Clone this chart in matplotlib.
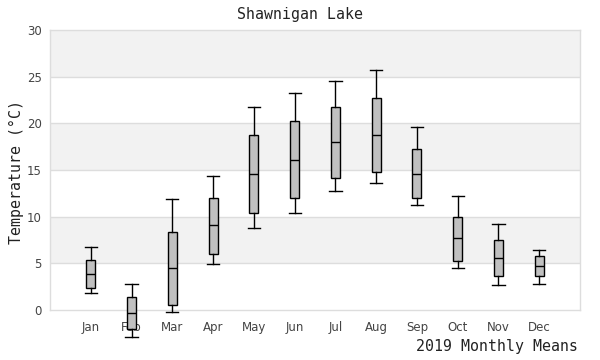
import matplotlib
matplotlib.use("Agg")
import matplotlib.pyplot as plt

months = ["Jan", "Feb", "Mar", "Apr", "May", "Jun", "Jul", "Aug", "Sep", "Oct", "Nov", "Dec"]
whisker_low = [1.8, -2.9, -0.25, 4.9, 8.75, 10.4, 12.7, 13.6, 11.2, 4.5, 2.65, 2.75]
q1 = [2.4, -2.05, 0.5, 6.05, 10.35, 11.95, 14.1, 14.8, 12.05, 5.2, 3.6, 3.6]
median = [3.9, -0.35, 4.45, 9.1, 14.55, 16.1, 17.95, 18.7, 14.6, 7.7, 5.55, 4.7]
q3 = [5.4, 1.35, 8.4, 12.05, 18.7, 20.3, 21.8, 22.7, 17.2, 10.0, 7.55, 5.75]
whisker_high = [6.8, 2.75, 11.9, 14.4, 21.7, 23.2, 24.5, 25.7, 19.6, 12.2, 9.2, 6.4]

fig = plt.figure(figsize=(6, 3.6), dpi=100)
ax = fig.add_axes([50/600, 50/360, 530/600, 280/360])

# alternating bands
for lo in range(0, 30, 5):
    if (lo // 5) % 2 == 1:
        ax.axhspan(lo, lo + 5, color="#f2f2f2", zorder=0, lw=0)
for y in range(5, 30, 5):
    ax.axhline(y, color="#dddddd", lw=1, zorder=1)

stats = []
for i, m in enumerate(months):
    stats.append(dict(label=m, whislo=whisker_low[i], q1=q1[i], med=median[i],
                      q3=q3[i], whishi=whisker_high[i], fliers=[]))
positions = list(range(1, len(months) + 1))
res = ax.bxp(stats, positions=positions, widths=0.22, capwidths=0.3, patch_artist=True,
             showfliers=False,
             boxprops=dict(facecolor="#c0c0c0", edgecolor="black", linewidth=1),
             medianprops=dict(color="black", linewidth=1),
             whiskerprops=dict(color="black", linewidth=1),
             capprops=dict(color="black", linewidth=1), zorder=3)
for key, arts in res.items():
    for a in arts:
        a.set_clip_on(False)

ax.set_xlim(0, 13)
ax.set_ylim(0, 30)
ax.set_yticks(range(0, 31, 5))
ax.set_xticks(positions)
ax.set_xticklabels(months)
ax.tick_params(axis="both", length=0, labelsize=8.5, colors="#444444")
ax.tick_params(axis="x", pad=8)
ax.tick_params(axis="y", pad=6)
for s in ax.spines.values():
    s.set_color("#dddddd")
    s.set_linewidth(1)

mono = "DejaVu Sans Mono"
fig.text(0.5, 1 - 14/360, "Shawnigan Lake", ha="center", va="center",
         family=mono, fontsize=10.7, color="#222222")
fig.text(16/600, 1 - 172/360, "Temperature (°C)", ha="center", va="center",
         rotation=90, family=mono, fontsize=10.7, color="#222222")
fig.text(578/600, 1 - 347/360, "2019 Monthly Means", ha="right", va="center",
         family=mono, fontsize=10.7, color="#222222")

fig.savefig("out.png", dpi=100)
